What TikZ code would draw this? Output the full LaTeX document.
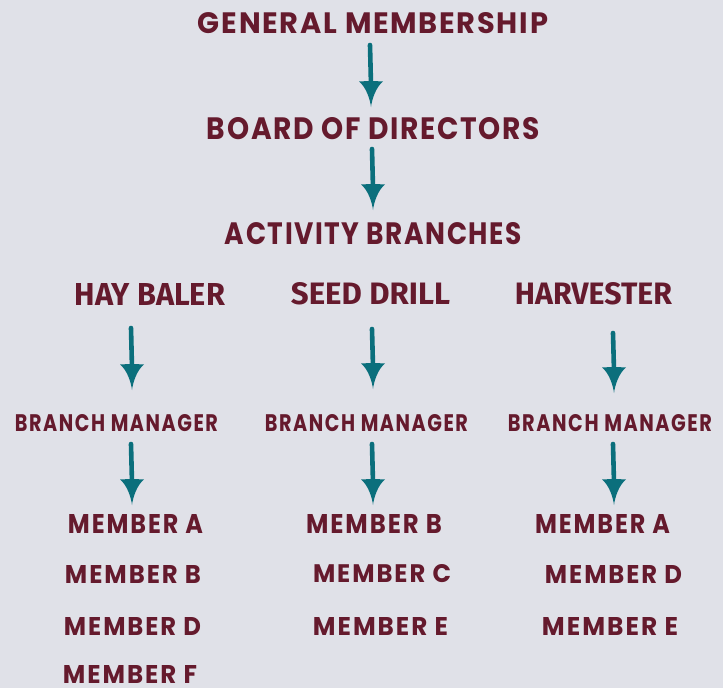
\documentclass[tikz,border=0pt]{standalone}
\usepackage{fontspec}
\usepackage{graphicx}
\newfontfamily\geo{Poppins}[LetterSpace=6]
\newfontfamily\geom{Poppins}[LetterSpace=8]
\newfontfamily\cond{Fira Sans}
\definecolor{bgc}{HTML}{E0E1E8}
\definecolor{txt}{HTML}{651A2D}
\definecolor{tealc}{HTML}{0B6F7C}
\newcommand{\fitg}[3]{\resizebox{#1pt}{#2pt}{\geo\bfseries #3}}
\newcommand{\fitm}[3]{\resizebox{#1pt}{#2pt}{\geom\bfseries #3}}
\newcommand{\fitc}[3]{\resizebox{#1pt}{#2pt}{\cond\bfseries #3}}
\tikzset{
  lbl/.style={inner sep=0pt, outer sep=0pt, text=txt, anchor=center},
  shaft/.style={draw=tealc, line width=4.6pt, line cap=round},
  headpic/.pic={\fill[tealc] (0,0) .. controls (1,-8) and (5,-20) .. (12,-25.5)
      -- (2.2,-26) -- (-2.2,-26) -- (-12,-25.5) .. controls (-5,-20) and (-1,-8) .. (0,0) -- cycle;}
}
\newcommand{\tarrow}[2]{\draw[shaft] (#1) -- ([yshift=22pt]#2); \pic at (#2) {headpic};}
\begin{document}
\begin{tikzpicture}[x=1pt,y=-1pt]
\useasboundingbox (0,0) rectangle (723,688);
\fill[bgc] (0,0) rectangle (723,688);
% titles
\node[lbl] (gm) at (373,23.5) {\fitg{350}{21}{GENERAL MEMBERSHIP}};
\node[lbl] (bd) at (373.5,129) {\fitg{333}{22}{BOARD OF DIRECTORS}};
\node[lbl] (ab) at (373.5,234) {\fitg{297}{22}{ACTIVITY BRANCHES}};
% branches
\node[lbl] (hb) at (150,294) {\fitc{150}{22}{HAY BALER}};
\node[lbl] (sd) at (370.5,294) {\fitc{159}{22}{SEED DRILL}};
\node[lbl] (hv) at (593.5,294) {\fitc{157}{22}{HARVESTER}};
% managers
\node[lbl] (m1) at (116.5,423.5) {\fitm{203}{17}{BRANCH MANAGER}};
\node[lbl] (m2) at (366.5,423.5) {\fitm{203}{17}{BRANCH MANAGER}};
\node[lbl] (m3) at (610,423.5) {\fitm{204}{17}{BRANCH MANAGER}};
% members left
\node[lbl] (l1) at (135.5,523.5) {\fitm{135}{19}{MEMBER A}};
\node[lbl] (l2) at (133,574) {\fitm{136}{18}{MEMBER B}};
\node[lbl] (l3) at (132.5,626) {\fitm{137}{18}{MEMBER D}};
\node[lbl] (l4) at (130,674) {\fitm{134}{18}{MEMBER F}};
% members mid
\node[lbl] (c1) at (374,523.5) {\fitm{136}{19}{MEMBER B}};
\node[lbl] (c2) at (382,574) {\fitm{138}{18}{MEMBER C}};
\node[lbl] (c3) at (380.5,626) {\fitm{135}{18}{MEMBER E}};
% members right
\node[lbl] (r1) at (602.5,523.5) {\fitm{135}{19}{MEMBER A}};
\node[lbl] (r2) at (613.5,574) {\fitm{137}{18}{MEMBER D}};
\node[lbl] (r3) at (610,626) {\fitm{136}{18}{MEMBER E}};
% arrow end points
\coordinate (a1s) at (370,45); \coordinate (a1e) at (371,107);
\coordinate (a2s) at (372,149); \coordinate (a2e) at (373,210);
\coordinate (b1s) at (131,328); \coordinate (b1e) at (132,390);
\coordinate (b2s) at (372,329); \coordinate (b2e) at (373,389);
\coordinate (b3s) at (613,333); \coordinate (b3e) at (614,393);
\coordinate (c1s) at (131,444); \coordinate (c1e) at (132,505);
\coordinate (c2s) at (372,444); \coordinate (c2e) at (373,505);
\coordinate (c3s) at (613,444); \coordinate (c3e) at (614,505);
\tarrow{a1s}{a1e}
\tarrow{a2s}{a2e}
\tarrow{b1s}{b1e}
\tarrow{b2s}{b2e}
\tarrow{b3s}{b3e}
\tarrow{c1s}{c1e}
\tarrow{c2s}{c2e}
\tarrow{c3s}{c3e}
\end{tikzpicture}
\end{document}
